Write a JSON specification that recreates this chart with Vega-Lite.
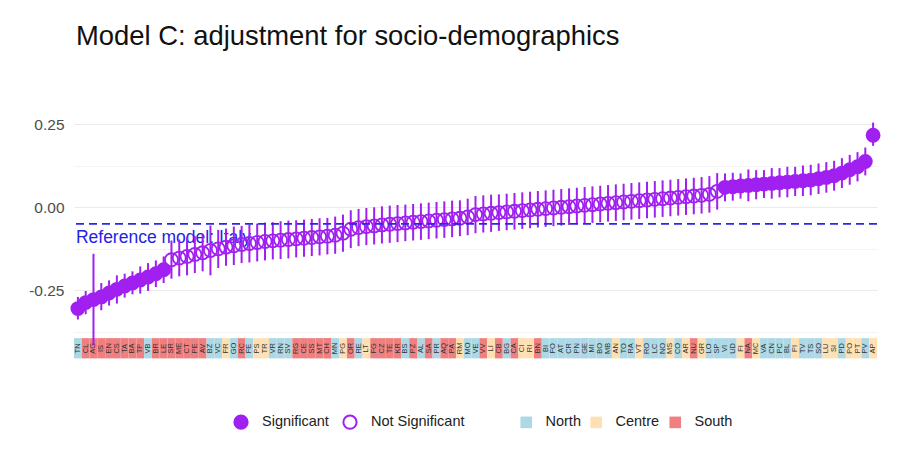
{
  "$schema": "https://vega.github.io/schema/vega-lite/v6.json",
  "width": 803,
  "height": 259,
  "autosize": {"type": "none"},
  "padding": {"left": 74, "top": 111, "right": 23, "bottom": 95},
  "background": "white",
  "title": {"text": "Model C: adjustment for socio-demographics", "anchor": "start", "frame": "group", "fontSize": 27.4, "font": "Liberation Sans", "fontWeight": "normal", "color": "#111111", "offset": 61, "dx": 2},
  "config": {"view": {"stroke": null}, "font": "Liberation Sans"},
  "data": {"values": [
    {"p":"TN","r":"North","est":-0.305,"lo":-0.338,"hi":-0.27,"sig":"Significant"},
    {"p":"CL","r":"South","est":-0.287,"lo":-0.322,"hi":-0.252,"sig":"Significant"},
    {"p":"AG","r":"South","est":-0.278,"lo":-0.415,"hi":-0.14,"sig":"Significant"},
    {"p":"IS","r":"South","est":-0.27,"lo":-0.31,"hi":-0.228,"sig":"Significant"},
    {"p":"EN","r":"South","est":-0.258,"lo":-0.296,"hi":-0.22,"sig":"Significant"},
    {"p":"CS","r":"South","est":-0.247,"lo":-0.29,"hi":-0.205,"sig":"Significant"},
    {"p":"TA","r":"South","est":-0.237,"lo":-0.272,"hi":-0.2,"sig":"Significant"},
    {"p":"BA","r":"South","est":-0.228,"lo":-0.262,"hi":-0.193,"sig":"Significant"},
    {"p":"TP","r":"South","est":-0.219,"lo":-0.26,"hi":-0.178,"sig":"Significant"},
    {"p":"VB","r":"North","est":-0.21,"lo":-0.252,"hi":-0.168,"sig":"Significant"},
    {"p":"BR","r":"South","est":-0.2,"lo":-0.24,"hi":-0.16,"sig":"Significant"},
    {"p":"LE","r":"South","est":-0.188,"lo":-0.228,"hi":-0.148,"sig":"Significant"},
    {"p":"SR","r":"South","est":-0.158,"lo":-0.215,"hi":-0.1,"sig":"Not Significant"},
    {"p":"ME","r":"South","est":-0.153,"lo":-0.208,"hi":-0.097,"sig":"Not Significant"},
    {"p":"CT","r":"South","est":-0.148,"lo":-0.205,"hi":-0.09,"sig":"Not Significant"},
    {"p":"PE","r":"South","est":-0.142,"lo":-0.198,"hi":-0.086,"sig":"Not Significant"},
    {"p":"AV","r":"South","est":-0.137,"lo":-0.193,"hi":-0.08,"sig":"Not Significant"},
    {"p":"BZ","r":"North","est":-0.13,"lo":-0.205,"hi":-0.055,"sig":"Not Significant"},
    {"p":"VC","r":"North","est":-0.125,"lo":-0.183,"hi":-0.068,"sig":"Not Significant"},
    {"p":"FR","r":"Centre","est":-0.12,"lo":-0.176,"hi":-0.064,"sig":"Not Significant"},
    {"p":"GO","r":"North","est":-0.116,"lo":-0.174,"hi":-0.058,"sig":"Not Significant"},
    {"p":"RC","r":"South","est":-0.112,"lo":-0.168,"hi":-0.056,"sig":"Not Significant"},
    {"p":"FE","r":"North","est":-0.109,"lo":-0.166,"hi":-0.052,"sig":"Not Significant"},
    {"p":"PS","r":"Centre","est":-0.106,"lo":-0.163,"hi":-0.049,"sig":"Not Significant"},
    {"p":"TR","r":"Centre","est":-0.103,"lo":-0.16,"hi":-0.046,"sig":"Not Significant"},
    {"p":"VR","r":"North","est":-0.101,"lo":-0.157,"hi":-0.045,"sig":"Not Significant"},
    {"p":"RN","r":"North","est":-0.099,"lo":-0.156,"hi":-0.042,"sig":"Not Significant"},
    {"p":"SV","r":"North","est":-0.097,"lo":-0.154,"hi":-0.04,"sig":"Not Significant"},
    {"p":"RG","r":"South","est":-0.095,"lo":-0.151,"hi":-0.039,"sig":"Not Significant"},
    {"p":"CE","r":"South","est":-0.093,"lo":-0.149,"hi":-0.037,"sig":"Not Significant"},
    {"p":"SS","r":"South","est":-0.091,"lo":-0.147,"hi":-0.035,"sig":"Not Significant"},
    {"p":"MT","r":"South","est":-0.089,"lo":-0.145,"hi":-0.033,"sig":"Not Significant"},
    {"p":"CH","r":"South","est":-0.087,"lo":-0.142,"hi":-0.032,"sig":"Not Significant"},
    {"p":"MN","r":"North","est":-0.084,"lo":-0.14,"hi":-0.028,"sig":"Not Significant"},
    {"p":"PG","r":"Centre","est":-0.078,"lo":-0.134,"hi":-0.022,"sig":"Not Significant"},
    {"p":"OR","r":"South","est":-0.066,"lo":-0.123,"hi":-0.009,"sig":"Not Significant"},
    {"p":"RE","r":"North","est":-0.061,"lo":-0.117,"hi":-0.005,"sig":"Not Significant"},
    {"p":"LT","r":"Centre","est":-0.058,"lo":-0.114,"hi":-0.002,"sig":"Not Significant"},
    {"p":"FG","r":"South","est":-0.056,"lo":-0.112,"hi":0.0,"sig":"Not Significant"},
    {"p":"CZ","r":"South","est":-0.053,"lo":-0.109,"hi":0.003,"sig":"Not Significant"},
    {"p":"TE","r":"South","est":-0.051,"lo":-0.107,"hi":0.005,"sig":"Not Significant"},
    {"p":"KR","r":"South","est":-0.049,"lo":-0.105,"hi":0.007,"sig":"Not Significant"},
    {"p":"BS","r":"North","est":-0.047,"lo":-0.102,"hi":0.008,"sig":"Not Significant"},
    {"p":"PZ","r":"South","est":-0.045,"lo":-0.1,"hi":0.01,"sig":"Not Significant"},
    {"p":"AL","r":"North","est":-0.043,"lo":-0.098,"hi":0.012,"sig":"Not Significant"},
    {"p":"SA","r":"South","est":-0.041,"lo":-0.096,"hi":0.014,"sig":"Not Significant"},
    {"p":"PR","r":"North","est":-0.039,"lo":-0.094,"hi":0.016,"sig":"Not Significant"},
    {"p":"AQ","r":"South","est":-0.037,"lo":-0.092,"hi":0.018,"sig":"Not Significant"},
    {"p":"PA","r":"South","est":-0.035,"lo":-0.09,"hi":0.02,"sig":"Not Significant"},
    {"p":"RM","r":"Centre","est":-0.033,"lo":-0.087,"hi":0.021,"sig":"Not Significant"},
    {"p":"MO","r":"North","est":-0.029,"lo":-0.084,"hi":0.026,"sig":"Not Significant"},
    {"p":"VE","r":"North","est":-0.022,"lo":-0.078,"hi":0.034,"sig":"Not Significant"},
    {"p":"VV","r":"South","est":-0.02,"lo":-0.076,"hi":0.036,"sig":"Not Significant"},
    {"p":"LI","r":"Centre","est":-0.018,"lo":-0.074,"hi":0.038,"sig":"Not Significant"},
    {"p":"CB","r":"South","est":-0.016,"lo":-0.071,"hi":0.039,"sig":"Not Significant"},
    {"p":"BG","r":"North","est":-0.014,"lo":-0.069,"hi":0.041,"sig":"Not Significant"},
    {"p":"CA","r":"South","est":-0.012,"lo":-0.067,"hi":0.043,"sig":"Not Significant"},
    {"p":"CI","r":"Centre","est":-0.01,"lo":-0.065,"hi":0.045,"sig":"Not Significant"},
    {"p":"RI","r":"Centre","est":-0.008,"lo":-0.063,"hi":0.047,"sig":"Not Significant"},
    {"p":"BN","r":"South","est":-0.006,"lo":-0.061,"hi":0.049,"sig":"Not Significant"},
    {"p":"BI","r":"North","est":-0.004,"lo":-0.059,"hi":0.051,"sig":"Not Significant"},
    {"p":"FO","r":"North","est":-0.002,"lo":-0.057,"hi":0.053,"sig":"Not Significant"},
    {"p":"AT","r":"North","est":0.0,"lo":-0.055,"hi":0.055,"sig":"Not Significant"},
    {"p":"CR","r":"North","est":0.002,"lo":-0.053,"hi":0.057,"sig":"Not Significant"},
    {"p":"PN","r":"North","est":0.004,"lo":-0.051,"hi":0.059,"sig":"Not Significant"},
    {"p":"GE","r":"North","est":0.006,"lo":-0.049,"hi":0.061,"sig":"Not Significant"},
    {"p":"MI","r":"North","est":0.008,"lo":-0.047,"hi":0.063,"sig":"Not Significant"},
    {"p":"BO","r":"North","est":0.01,"lo":-0.045,"hi":0.065,"sig":"Not Significant"},
    {"p":"MB","r":"North","est":0.012,"lo":-0.043,"hi":0.067,"sig":"Not Significant"},
    {"p":"AN","r":"Centre","est":0.014,"lo":-0.041,"hi":0.069,"sig":"Not Significant"},
    {"p":"TO","r":"North","est":0.016,"lo":-0.039,"hi":0.071,"sig":"Not Significant"},
    {"p":"RA","r":"North","est":0.018,"lo":-0.037,"hi":0.073,"sig":"Not Significant"},
    {"p":"VT","r":"Centre","est":0.02,"lo":-0.035,"hi":0.075,"sig":"Not Significant"},
    {"p":"RO","r":"North","est":0.022,"lo":-0.033,"hi":0.077,"sig":"Not Significant"},
    {"p":"LC","r":"North","est":0.024,"lo":-0.031,"hi":0.079,"sig":"Not Significant"},
    {"p":"NO","r":"North","est":0.026,"lo":-0.029,"hi":0.081,"sig":"Not Significant"},
    {"p":"MS","r":"Centre","est":0.028,"lo":-0.027,"hi":0.083,"sig":"Not Significant"},
    {"p":"CO","r":"North","est":0.03,"lo":-0.025,"hi":0.085,"sig":"Not Significant"},
    {"p":"AR","r":"Centre","est":0.032,"lo":-0.023,"hi":0.087,"sig":"Not Significant"},
    {"p":"NU","r":"South","est":0.034,"lo":-0.021,"hi":0.089,"sig":"Not Significant"},
    {"p":"GR","r":"Centre","est":0.036,"lo":-0.019,"hi":0.091,"sig":"Not Significant"},
    {"p":"LO","r":"North","est":0.039,"lo":-0.016,"hi":0.094,"sig":"Not Significant"},
    {"p":"SP","r":"North","est":0.048,"lo":-0.007,"hi":0.103,"sig":"Not Significant"},
    {"p":"VI","r":"North","est":0.06,"lo":0.018,"hi":0.102,"sig":"Significant"},
    {"p":"UD","r":"North","est":0.062,"lo":0.02,"hi":0.104,"sig":"Significant"},
    {"p":"FI","r":"Centre","est":0.064,"lo":0.026,"hi":0.102,"sig":"Significant"},
    {"p":"NA","r":"South","est":0.066,"lo":0.018,"hi":0.114,"sig":"Significant"},
    {"p":"MC","r":"Centre","est":0.068,"lo":0.024,"hi":0.112,"sig":"Significant"},
    {"p":"VA","r":"North","est":0.07,"lo":0.028,"hi":0.112,"sig":"Significant"},
    {"p":"CN","r":"North","est":0.072,"lo":0.026,"hi":0.118,"sig":"Significant"},
    {"p":"PC","r":"North","est":0.074,"lo":0.03,"hi":0.118,"sig":"Significant"},
    {"p":"BL","r":"North","est":0.076,"lo":0.03,"hi":0.122,"sig":"Significant"},
    {"p":"PI","r":"Centre","est":0.078,"lo":0.034,"hi":0.122,"sig":"Significant"},
    {"p":"TV","r":"North","est":0.08,"lo":0.034,"hi":0.126,"sig":"Significant"},
    {"p":"TS","r":"North","est":0.082,"lo":0.036,"hi":0.128,"sig":"Significant"},
    {"p":"SO","r":"North","est":0.086,"lo":0.04,"hi":0.132,"sig":"Significant"},
    {"p":"LU","r":"Centre","est":0.09,"lo":0.044,"hi":0.136,"sig":"Significant"},
    {"p":"SI","r":"Centre","est":0.095,"lo":0.05,"hi":0.14,"sig":"Significant"},
    {"p":"PD","r":"North","est":0.103,"lo":0.058,"hi":0.148,"sig":"Significant"},
    {"p":"PO","r":"Centre","est":0.113,"lo":0.068,"hi":0.158,"sig":"Significant"},
    {"p":"PT","r":"Centre","est":0.122,"lo":0.078,"hi":0.166,"sig":"Significant"},
    {"p":"PV","r":"North","est":0.138,"lo":0.096,"hi":0.18,"sig":"Significant"},
    {"p":"AP","r":"Centre","est":0.217,"lo":0.185,"hi":0.255,"sig":"Significant"}
  ]},
  "layer": [
    {
      "mark": {"type": "rect"},
      "encoding": {
        "x": {"field": "p", "type": "nominal", "sort": null, "scale": {"type": "band", "paddingInner": 0, "paddingOuter": 0}, "axis": null},
        "y": {"datum": -0.394, "type": "quantitative", "title": null,
              "scale": {"domain": [-0.49, 0.29], "nice": false, "zero": false},
              "axis": {"values": [-0.375, -0.25, -0.125, 0, 0.125, 0.25],
                       "labelExpr": "abs(datum.value*4 - round(datum.value*4)) < 0.01 ? (datum.value < 0 ? '-' + format(-datum.value, '.2f') : format(datum.value, '.2f')) : ''",
                       "ticks": false, "domain": false, "grid": true, "gridColor": "#EBEBEB",
                       "gridWidth": {"condition": {"test": "abs(datum.value*4 - round(datum.value*4)) < 0.01", "value": 1.2}, "value": 0.6},
                       "labelFontSize": 15.5, "labelColor": "#4D4D4D", "labelFont": "Liberation Sans", "labelPadding": 10, "title": null}},
        "y2": {"datum": -0.455},
        "color": {"field": "r", "type": "nominal",
                  "scale": {"domain": ["North", "Centre", "South"], "range": ["#ADD8E6", "#FFE0B2", "#F08080"]},
                  "legend": {"title": null, "orient": "none", "legendX": 445, "legendY": 304, "direction": "horizontal",
                             "symbolType": "square", "symbolSize": 135, "symbolStrokeWidth": 0,
                             "labelFontSize": 14.5, "labelColor": "#222222", "labelFont": "Liberation Sans", "labelOffset": 12, "columnPadding": 8}}
      }
    },
    {
      "mark": {"type": "text", "angle": 270, "fontSize": 7.5, "color": "#333333", "font": "Liberation Sans"},
      "encoding": {
        "x": {"field": "p", "type": "nominal", "sort": null},
        "y": {"datum": -0.425, "type": "quantitative", "scale": {"domain": [-0.49, 0.29], "nice": false, "zero": false}, "title": null},
        "text": {"field": "p"}
      }
    },
    {
      "data": {"values": [{"label": "Reference model: Italy"}]},
      "mark": {"type": "text", "align": "left", "baseline": "middle", "fontSize": 17.5, "color": "#2323E6", "font": "Liberation Sans", "dx": -2},
      "encoding": {
        "x": {"datum": "TN", "type": "nominal"},
        "y": {"datum": -0.093, "type": "quantitative", "scale": {"domain": [-0.49, 0.29], "nice": false, "zero": false}, "title": null},
        "text": {"field": "label"}
      }
    },
    {
      "mark": {"type": "rule", "color": "#A020F0", "strokeWidth": 2},
      "encoding": {
        "x": {"field": "p", "type": "nominal", "sort": null},
        "y": {"field": "lo", "type": "quantitative", "scale": {"domain": [-0.49, 0.29], "nice": false, "zero": false}, "title": null},
        "y2": {"field": "hi"}
      }
    },
    {
      "mark": {"type": "point", "shape": "circle", "size": 170, "filled": true, "stroke": "#A020F0", "strokeWidth": 1.8, "opacity": 1},
      "encoding": {
        "x": {"field": "p", "type": "nominal", "sort": null},
        "y": {"field": "est", "type": "quantitative", "scale": {"domain": [-0.49, 0.29], "nice": false, "zero": false}, "title": null},
        "fill": {"field": "sig", "type": "nominal",
                 "scale": {"domain": ["Significant", "Not Significant"], "range": ["#A020F0", "rgba(255,255,255,0)"]},
                 "legend": {"title": null, "orient": "none", "legendX": 159, "legendY": 303, "direction": "horizontal",
                            "symbolType": "circle", "symbolSize": 175, "symbolStrokeColor": "#A020F0", "symbolStrokeWidth": 2, "symbolOpacity": 1,
                            "labelFontSize": 14.5, "labelColor": "#222222", "labelFont": "Liberation Sans", "labelOffset": 13, "columnPadding": 10}}
      }
    },
    {
      "data": {"values": [{"label": "Reference model: Italy"}]},
      "mark": {"type": "rule", "color": "#2828E6", "strokeWidth": 1.8, "strokeDash": [8, 5]},
      "encoding": {
        "y": {"datum": -0.05, "type": "quantitative", "scale": {"domain": [-0.49, 0.29], "nice": false, "zero": false}, "title": null}
      }
    }
  ]
}
